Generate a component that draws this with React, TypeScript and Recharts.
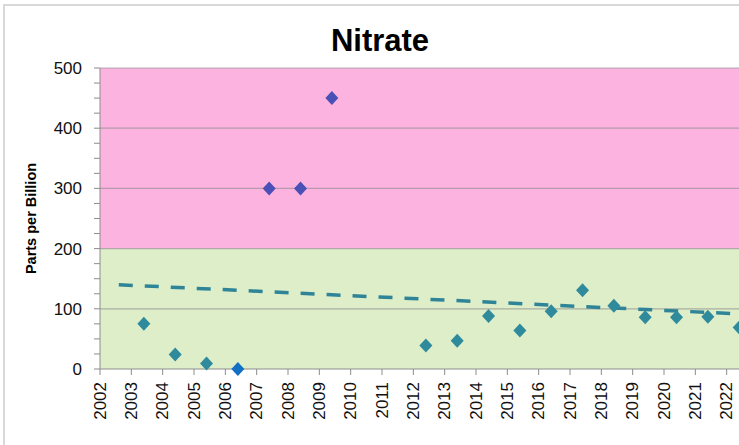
import {
	ScatterChart,
	Scatter,
	XAxis,
	YAxis,
	ReferenceArea,
	ReferenceLine,
	Label,
} from "recharts";

// sample dates (fractional year) and nitrate readings, ppb
const lowYears = [2003.4, 2004.4, 2005.4, 2012.4, 2013.4, 2014.4, 2015.4, 2016.4, 2017.4, 2018.4, 2019.4, 2020.4, 2021.4, 2022.4];
const lowValues = [75, 24, 9, 39, 47, 88, 64, 96, 131, 105, 86, 86, 87, 69];
const highYears = [2007.4, 2008.4, 2009.4];
const highValues = [300, 300, 450];
const zeroYears = [2006.4];
const zeroValues = [0];
// trend line end points
const trendYears = [2002.6, 2023];
const trendValues = [140, 90];

const yearTicks = [2002, 2003, 2004, 2005, 2006, 2007, 2008, 2009, 2010, 2011, 2012, 2013, 2014, 2015, 2016, 2017, 2018, 2019, 2020, 2021, 2022];
const valueTicks = [0, 25, 50, 75, 100, 125, 150, 175, 200, 225, 250, 275, 300, 325, 350, 375, 400, 425, 450, 475, 500];
const gridValues = [100, 200, 300, 400, 500];

const toPoints = (xs: number[], ys: number[]) => xs.map((x, i) => ({ x, y: ys[i] }));

const lowData = toPoints(lowYears, lowValues);
const highData = toPoints(highYears, highValues);
const zeroData = toPoints(zeroYears, zeroValues);
const trendData = toPoints(trendYears, trendValues);

const font = "'Liberation Sans', Arial, sans-serif";

const diamond = (color: string) => (props: any) => {
	const { cx, cy } = props;
	if (cx == null || cy == null) return <g />;
	return (
		<path
			d={`M${cx},${cy - 7} L${cx + 6.5},${cy} L${cx},${cy + 7} L${cx - 6.5},${cy} Z`}
			fill={color}
		/>
	);
};

const YearTick = ({ x, y, payload }: any) => {
	const ty = y + 5;
	return (
		<text
			x={x}
			y={ty}
			transform={`rotate(-90 ${x} ${ty})`}
			textAnchor="end"
			dominantBaseline="central"
			fontSize={17}
			fontFamily={font}
			fill="#111"
		>
			{payload.value}
		</text>
	);
};

const AxisTitle = ({ viewBox }: any) => {
	const cy = viewBox.y + viewBox.height / 2;
	return (
		<text
			x={36}
			y={cy}
			transform={`rotate(-90 36 ${cy})`}
			textAnchor="middle"
			fontSize={14.5}
			fontWeight="bold"
			fontFamily={font}
			fill="#000"
		>
			Parts per Billion
		</text>
	);
};

export default function App() {
	return (
		<div
			style={{
				position: "fixed",
				left: 0,
				top: 0,
				width: 739,
				height: 445,
				overflow: "hidden",
				background: "#fff",
			}}
		>
			<div
				style={{
					position: "absolute",
					left: 3,
					top: 4,
					width: 760,
					height: 460,
					borderTop: "2px solid #d9d9d9",
					borderLeft: "2px solid #d9d9d9",
				}}
			/>
			<div
				style={{
					position: "absolute",
					left: 280,
					top: 22,
					width: 200,
					textAlign: "center",
					fontFamily: font,
					fontWeight: "bold",
					fontSize: 31,
					lineHeight: "38px",
					color: "#000",
				}}
			>
				Nitrate
			</div>
			<div style={{ position: "absolute", left: 0, top: 0 }}>
				<ScatterChart
					width={770}
					height={445}
					margin={{ top: 68, right: 12, bottom: 0, left: 0 }}
				>
					<XAxis
						type="number"
						dataKey="x"
						domain={[2002, 2023]}
						ticks={yearTicks}
						interval={0}
						height={76}
						stroke="#8c8c8c"
						tickSize={6}
						tick={<YearTick />}
						allowDataOverflow
					/>
					<YAxis
						type="number"
						dataKey="y"
						domain={[0, 500]}
						ticks={valueTicks}
						interval={0}
						width={100}
						stroke="#8c8c8c"
						tickSize={6}
						tickMargin={12}
						tick={{ fontSize: 17, fontFamily: font, fill: "#111" }}
						tickFormatter={(v: number) => (v % 100 === 0 ? String(v) : "")}
					>
						<Label content={<AxisTitle />} />
					</YAxis>
					<ReferenceArea y1={0} y2={200} fill="#ddeec9" fillOpacity={1} stroke="none" />
					<ReferenceArea y1={200} y2={500} fill="#fdb3e0" fillOpacity={1} stroke="none" />
					{gridValues.map((v) => (
						<ReferenceLine key={v} y={v} stroke="#8f8f8f" strokeOpacity={0.65} strokeWidth={1.2} />
					))}
					<Scatter
						data={trendData}
						line={{ stroke: "#2f8597", strokeWidth: 3.5, strokeDasharray: "14 12" }}
						shape={() => <g />}
						isAnimationActive={false}
					/>
					<Scatter data={lowData} shape={diamond("#2f8a9c")} isAnimationActive={false} />
					<Scatter data={highData} shape={diamond("#4a50b6")} isAnimationActive={false} />
					<Scatter data={zeroData} shape={diamond("#1170c4")} isAnimationActive={false} />
				</ScatterChart>
			</div>
		</div>
	);
}
